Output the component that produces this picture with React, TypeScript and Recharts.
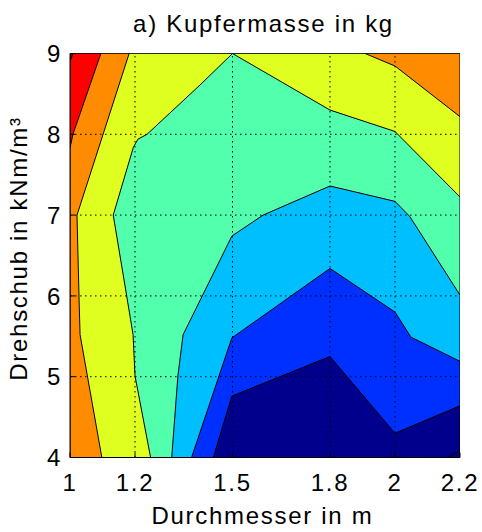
import React from 'react';
import { ScatterChart, Scatter, XAxis, YAxis } from 'recharts';

// ---- axis ticks and texts ----
const xTicks = [1, 1.2, 1.5, 1.8, 2, 2.2];
const yTicks = [4, 5, 6, 7, 8, 9];
const titleText = 'a) Kupfermasse in kg';
const xLabelText = 'Durchmesser in m';
const yLabelText = 'Drehschub in kNm/m³';

type P = { x: number; y: number };

// ---- filled contour regions (z >= level), in data coordinates ----
const navyBase: P[] = [
  { x: 1, y: 4 }, { x: 2.2, y: 4 }, { x: 2.2, y: 9 }, { x: 1, y: 9 },
];
const deepNavyCorner: P[] = [
  { x: 2.159, y: 4 }, { x: 2.2, y: 4.09 }, { x: 2.2, y: 4 },
];
const blueRegion: P[] = [
  { x: 1, y: 4 }, { x: 1.441, y: 4 }, { x: 1.498, y: 4.76 }, { x: 1.8, y: 5.25 },
  { x: 2.0, y: 4.3 }, { x: 2.2, y: 4.64 }, { x: 2.2, y: 9 }, { x: 1, y: 9 },
];
const lightBlueRegion: P[] = [
  { x: 1, y: 4 }, { x: 1.374, y: 4 }, { x: 1.498, y: 5.48 }, { x: 1.8, y: 6.34 },
  { x: 2.0, y: 5.8 }, { x: 2.049, y: 5.49 }, { x: 2.2, y: 5.19 }, { x: 2.2, y: 9 }, { x: 1, y: 9 },
];
const aquaRegion: P[] = [
  { x: 1, y: 4 }, { x: 1.313, y: 4 }, { x: 1.332, y: 5.01 }, { x: 1.348, y: 5.52 },
  { x: 1.498, y: 6.74 }, { x: 1.594, y: 7.0 }, { x: 1.8, y: 7.36 }, { x: 2.0, y: 7.17 },
  { x: 2.046, y: 6.98 }, { x: 2.2, y: 6.01 }, { x: 2.2, y: 9 }, { x: 1, y: 9 },
];
const yellowRegion: P[] = [
  { x: 1, y: 4 }, { x: 1.248, y: 4 }, { x: 1.2, y: 5.01 }, { x: 1.194, y: 5.52 },
  { x: 1.174, y: 6.01 }, { x: 1.133, y: 7.0 }, { x: 1.195, y: 7.84 }, { x: 1.209, y: 7.94 },
  { x: 1.237, y: 8.0 }, { x: 1.4, y: 8.61 }, { x: 1.5, y: 9 }, { x: 1.8, y: 8.3 },
  { x: 2.0, y: 8.035 }, { x: 2.2, y: 7.224 }, { x: 2.2, y: 9 }, { x: 1, y: 9 },
];
const orangeLeftRegion: P[] = [
  { x: 1, y: 4 }, { x: 1.098, y: 4 }, { x: 1.031, y: 5.52 }, { x: 1.028, y: 5.95 },
  { x: 1.0215, y: 7.0 }, { x: 1.182, y: 9 }, { x: 1, y: 9 },
];
const orangeRightRegion: P[] = [
  { x: 1.908, y: 9 }, { x: 2.0, y: 8.845 }, { x: 2.2, y: 8.218 }, { x: 2.2, y: 9 },
];
const redRegion: P[] = [
  { x: 1, y: 7.83 }, { x: 1.009, y: 8.0 }, { x: 1.095, y: 9 }, { x: 1, y: 9 },
];
const darkRedRegion: P[] = [
  { x: 1, y: 8.9 }, { x: 1.009, y: 9 }, { x: 1, y: 9 },
];

const layers: { name: string; data: P[]; color: string }[] = [
  { name: 'navy', data: navyBase, color: '#00008C' },
  { name: 'deepnavy', data: deepNavyCorner, color: '#000080' },
  { name: 'blue', data: blueRegion, color: '#0030FF' },
  { name: 'lightblue', data: lightBlueRegion, color: '#00BFFF' },
  { name: 'aqua', data: aquaRegion, color: '#52FFAD' },
  { name: 'yellow', data: yellowRegion, color: '#DFFF20' },
  { name: 'orangeL', data: orangeLeftRegion, color: '#FF8C00' },
  { name: 'orangeR', data: orangeRightRegion, color: '#FF8C00' },
  { name: 'red', data: redRegion, color: '#FF0000' },
  { name: 'darkred', data: darkRedRegion, color: '#800000' },
];

const FONT = "Arial, 'Liberation Sans', Helvetica, sans-serif";
const LS = 1.7;

const noShape = () => <g />;

const polygonLine = (fill: string) => (props: any) => {
  const pts = (props && props.points) || [];
  if (!pts.length) return <g />;
  const d = pts.map((p: any, i: number) => `${i ? 'L' : 'M'}${p.x},${p.y}`).join('') + 'Z';
  return <path d={d} fill={fill} stroke="#000" strokeWidth={1} strokeLinejoin="round" />;
};

const gridLine = (props: any) => {
  const pts = (props && props.points) || [];
  if (pts.length < 2) return <g />;
  const d = pts.map((p: any, i: number) => `${i ? 'L' : 'M'}${p.x},${p.y}`).join('');
  return <path d={d} fill="none" stroke="#000" strokeWidth={1} strokeDasharray="1.5 3.5" />;
};

const XTick = (props: any) => {
  const { x, y, payload } = props;
  return (
    <text x={x} y={y} textAnchor="middle" fontSize={24} fontFamily={FONT} letterSpacing={LS} fill="#000">
      {payload.value}
    </text>
  );
};

const YTick = (props: any) => {
  const { x, y, payload } = props;
  return (
    <text x={x} y={y} dy="0.36em" textAnchor="end" fontSize={24} fontFamily={FONT} letterSpacing={LS} fill="#000">
      {payload.value}
    </text>
  );
};

export default function App() {
  const yMin = yTicks[0];
  const yMax = yTicks[yTicks.length - 1];
  return (
    <div style={{ position: 'absolute', left: 0, top: 0, background: '#fff' }}>
      <ScatterChart
        width={482}
        height={532}
        margin={{ top: 53.5, right: 22, bottom: 14.5, left: 10 }}
      >
        <XAxis
          dataKey="x"
          type="number"
          domain={[xTicks[0], xTicks[xTicks.length - 1]]}
          ticks={xTicks}
          interval={0}
          allowDataOverflow
          height={60}
          tickSize={-5}
          tickMargin={38.5}
          axisLine={{ stroke: '#000' }}
          tickLine={{ stroke: '#000' }}
          tick={<XTick />}
        />
        <XAxis
          xAxisId="top"
          orientation="top"
          type="number"
          domain={[xTicks[0], xTicks[xTicks.length - 1]]}
          ticks={xTicks}
          interval={0}
          allowDataOverflow
          height={0}
          tickSize={-5}
          tick={false}
          axisLine={{ stroke: '#000' }}
          tickLine={{ stroke: '#000' }}
        />
        <YAxis
          dataKey="y"
          type="number"
          domain={[yMin, yMax]}
          ticks={yTicks}
          interval={0}
          allowDataOverflow
          width={60}
          tickSize={-5}
          tickMargin={13}
          axisLine={{ stroke: '#000' }}
          tickLine={{ stroke: '#000' }}
          tick={<YTick />}
        />
        <YAxis
          yAxisId="right"
          orientation="right"
          type="number"
          domain={[yMin, yMax]}
          ticks={yTicks}
          interval={0}
          allowDataOverflow
          width={0}
          tickSize={-5}
          tick={false}
          axisLine={{ stroke: '#000' }}
          tickLine={{ stroke: '#000' }}
        />
        {layers.map((l) => (
          <Scatter
            key={l.name}
            name={l.name}
            data={l.data}
            line={polygonLine(l.color)}
            shape={noShape}
            isAnimationActive={false}
            legendType="none"
            zIndex={100}
          />
        ))}
        {xTicks.slice(1, -1).map((t) => (
          <Scatter
            key={'gx' + t}
            data={[{ x: t, y: yMin }, { x: t, y: yMax }]}
            line={gridLine}
            shape={noShape}
            isAnimationActive={false}
            legendType="none"
            zIndex={150}
          />
        ))}
        {yTicks.slice(1, -1).map((t) => (
          <Scatter
            key={'gy' + t}
            data={[{ x: xTicks[0], y: t }, { x: xTicks[xTicks.length - 1], y: t }]}
            line={gridLine}
            shape={noShape}
            isAnimationActive={false}
            legendType="none"
            zIndex={150}
          />
        ))}
        <text x={263.5} y={32.3} textAnchor="middle" fontSize={24} fontFamily={FONT} letterSpacing={LS} fill="#000">
          {titleText}
        </text>
        <text x={262.5} y={524} textAnchor="middle" fontSize={24} fontFamily={FONT} letterSpacing={LS} fill="#000">
          {xLabelText}
        </text>
        <text
          x={27}
          y={248.5}
          transform="rotate(-90, 27, 248.5)"
          textAnchor="middle"
          fontSize={24}
          fontFamily={FONT}
          letterSpacing={LS}
          fill="#000"
        >
          {yLabelText}
        </text>
      </ScatterChart>
    </div>
  );
}
